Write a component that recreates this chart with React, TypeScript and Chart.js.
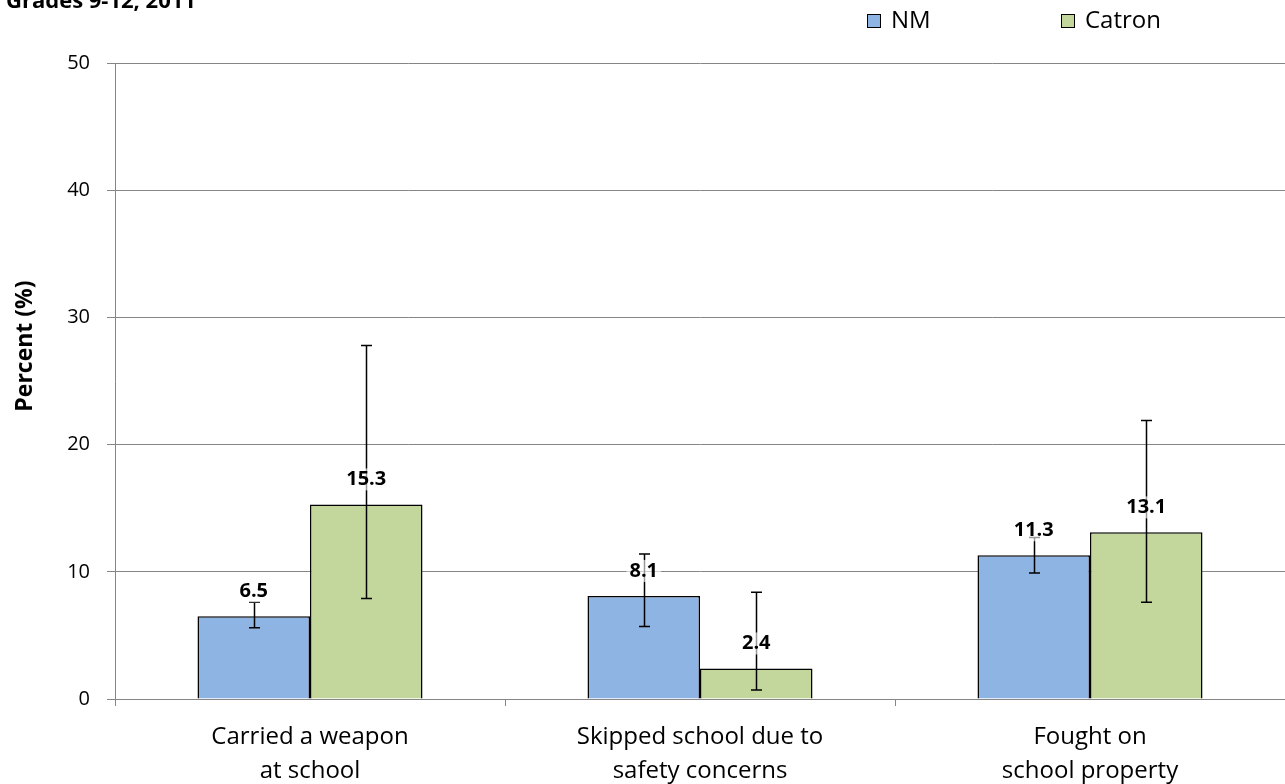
import React, { useEffect, useRef } from "react";
import { Chart, registerables } from "chart.js";

Chart.register(...registerables);

const categories: string[][] = [
  ["Carried a weapon", "at school"],
  ["Skipped school due to", "safety concerns"],
  ["Fought on", "school property"],
];
const seriesNames = ["NM", "Catron"];
const nmValues = [6.5, 8.1, 11.3];
const catronValues = [15.3, 2.4, 13.1];
const nmLow = [5.6, 5.7, 9.9];
const nmHigh = [7.6, 11.4, 12.7];
const catronLow = [7.9, 0.7, 7.6];
const catronHigh = [27.8, 8.4, 21.9];
const yTicks = [0, 10, 20, 30, 40, 50];
const titleText = "Grades 9-12, 2011";
const yTitle = "Percent (%)";

const FONT = "'Open Sans', sans-serif";

const overlayPlugin = {
  id: "overlay",
  afterDatasetsDraw(chart: any) {
    const ctx = chart.ctx;
    const lows = [nmLow, catronLow];
    const highs = [nmHigh, catronHigh];
    const y = chart.scales.y;
    const xs = chart.scales.x;
    const area = chart.chartArea;
    ctx.save();
    // error bars
    ctx.strokeStyle = "#000";
    ctx.lineWidth = 1.5;
    chart.data.datasets.forEach((ds: any, di: number) => {
      const meta = chart.getDatasetMeta(di);
      meta.data.forEach((bar: any, i: number) => {
        const x = Math.round(bar.x) + 0.5;
        const yt = y.getPixelForValue(highs[di][i]);
        const yb = y.getPixelForValue(lows[di][i]);
        ctx.beginPath();
        ctx.moveTo(x, yt);
        ctx.lineTo(x, yb);
        ctx.moveTo(x - 5.5, yt);
        ctx.lineTo(x + 5.5, yt);
        ctx.moveTo(x - 5.5, yb);
        ctx.lineTo(x + 5.5, yb);
        ctx.stroke();
      });
    });
    // value labels
    ctx.font = `bold 20px ${FONT}`;
    ctx.textAlign = "center";
    ctx.textBaseline = "middle";
    chart.data.datasets.forEach((ds: any, di: number) => {
      const meta = chart.getDatasetMeta(di);
      meta.data.forEach((bar: any, i: number) => {
        const txt = ds.data[i].toFixed(1);
        const cy = bar.y - 25;
        const w = ctx.measureText(txt).width + 6;
        ctx.fillStyle = "rgba(255,255,255,0.6)";
        ctx.fillRect(bar.x - w / 2, cy - 11, w, 22);
        ctx.fillStyle = "#000";
        ctx.fillText(txt, bar.x, cy);
      });
    });
    // category labels
    ctx.font = `24px ${FONT}`;
    ctx.textAlign = "center";
    ctx.textBaseline = "alphabetic";
    ctx.fillStyle = "#000";
    categories.forEach((lines, i) => {
      const cx = xs.getPixelForValue(i);
      lines.forEach((ln, li) => {
        ctx.fillText(ln, cx, area.bottom + 45 + li * 34);
      });
    });
    // title
    ctx.textAlign = "left";
    ctx.textBaseline = "alphabetic";
    ctx.font = `bold 22px ${FONT}`;
    ctx.fillText(titleText, 6, 8);
    // y title
    ctx.save();
    ctx.translate(32, 346);
    ctx.rotate(-Math.PI / 2);
    ctx.textAlign = "center";
    ctx.textBaseline = "alphabetic";
    ctx.font = `bold 23px ${FONT}`;
    ctx.fillText(yTitle, 0, 0);
    ctx.restore();
    // legend
    const legendX = [867, 1061];
    ctx.font = `24px ${FONT}`;
    ctx.textBaseline = "middle";
    chart.data.datasets.forEach((ds: any, di: number) => {
      const lx = legendX[di];
      ctx.fillStyle = ds.backgroundColor;
      ctx.fillRect(lx, 14, 14, 14);
      ctx.strokeStyle = "#000";
      ctx.lineWidth = 1;
      ctx.strokeRect(lx + 0.5, 14.5, 13, 13);
      ctx.fillStyle = "#000";
      ctx.textAlign = "left";
      ctx.fillText(seriesNames[di], lx + 24, 21);
    });
    ctx.restore();
  },
};

export default function App() {
  const ref = useRef<HTMLCanvasElement>(null);
  useEffect(() => {
    document.body.style.margin = "0";
    const chart = new Chart(ref.current as HTMLCanvasElement, {
      type: "bar",
      data: {
        labels: categories,
        datasets: [
          {
            label: seriesNames[0],
            data: nmValues,
            backgroundColor: "#8EB4E3",
            borderColor: "#000",
            borderWidth: 1.5,
            categoryPercentage: 0.577,
            barPercentage: 1,
          },
          {
            label: seriesNames[1],
            data: catronValues,
            backgroundColor: "#C3D69B",
            borderColor: "#000",
            borderWidth: 1.5,
            categoryPercentage: 0.577,
            barPercentage: 1,
          },
        ],
      },
      options: {
        animation: false,
        responsive: false,
        maintainAspectRatio: false,
        layout: { padding: { top: 63, left: 0, right: 0, bottom: 0 } },
        plugins: {
          legend: { display: false },
          title: { display: false },
          tooltip: { enabled: false },
        },
        scales: {
          x: {
            offset: true,
            grid: {
              offset: true,
              drawOnChartArea: false,
              drawTicks: true,
              tickLength: 7,
              color: "#868686",
            },
            border: { color: "#868686", width: 1 },
            ticks: { display: false },
            afterFit(scale: any) {
              scale.height = 85;
            },
          },
          y: {
            min: 0,
            max: 50,
            afterBuildTicks(scale: any) {
              scale.ticks = yTicks.map((v) => ({ value: v }));
            },
            grid: {
              color: "#868686",
              tickLength: 8,
              lineWidth: 1,
            },
            border: { color: "#868686", width: 1 },
            ticks: {
              color: "#000",
              font: { family: FONT, size: 20 },
              padding: 17,
            },
            afterFit(scale: any) {
              scale.width = 115;
            },
          },
        },
      },
      plugins: [overlayPlugin],
    });
    return () => chart.destroy();
  }, []);
  return (
    <div style={{ width: 1285, height: 784 }}>
      <canvas ref={ref} width={1285} height={784} />
    </div>
  );
}
